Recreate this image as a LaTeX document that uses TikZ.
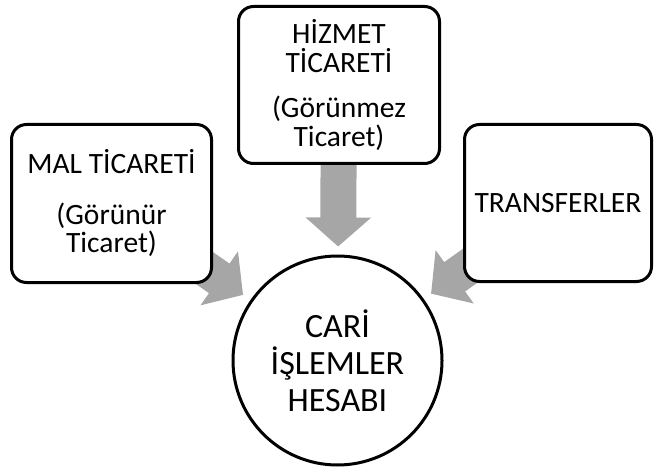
\documentclass[tikz,border=0pt]{standalone}
\usepackage{fontspec}
\setmainfont{Carlito}
\usetikzlibrary{arrows.meta,backgrounds}
\definecolor{arrowgray}{RGB}{166,166,166}
\begin{document}
\begin{tikzpicture}[x=1pt,y=-1pt,
  box/.style={draw, line width=3pt, rounded corners=15pt, fill=white, inner sep=0pt, align=center, font=\fontsize{29.5}{28.5}\selectfont},
  bigarrow/.style={draw=arrowgray, line width=36pt, -{Triangle[length=29pt,width=64pt]}}]
\useasboundingbox (0,0) rectangle (655,470);
\node[box, minimum width=200pt, minimum height=158pt] (mal) at (111.5,203.5){MAL TİCARETİ\\[22pt](Görünür\\Ticaret)};
\node[box, minimum width=201pt, minimum height=157pt] (hizmet) at (339,85){HİZMET\\TİCARETİ\\[17pt](Görünmez\\Ticaret)};
\node[box, minimum width=187pt, minimum height=157pt] (transfer) at (558,203){TRANSFERLER};
\node[circle, draw, line width=3pt, fill=white, minimum size=209pt, inner sep=0pt, align=center, font=\fontsize{34}{37}\selectfont] (cari) at (337.5,360.5){CARİ\\İŞLEMLER\\HESABI};
\begin{scope}[on background layer]
\draw[bigarrow, shorten >=9pt] (mal.center) -- (cari);
\draw[bigarrow, shorten >=8pt] (hizmet.center) -- (cari);
\draw[bigarrow, shorten >=9pt] (transfer.center) -- (cari);
\end{scope}
\end{tikzpicture}
\end{document}
